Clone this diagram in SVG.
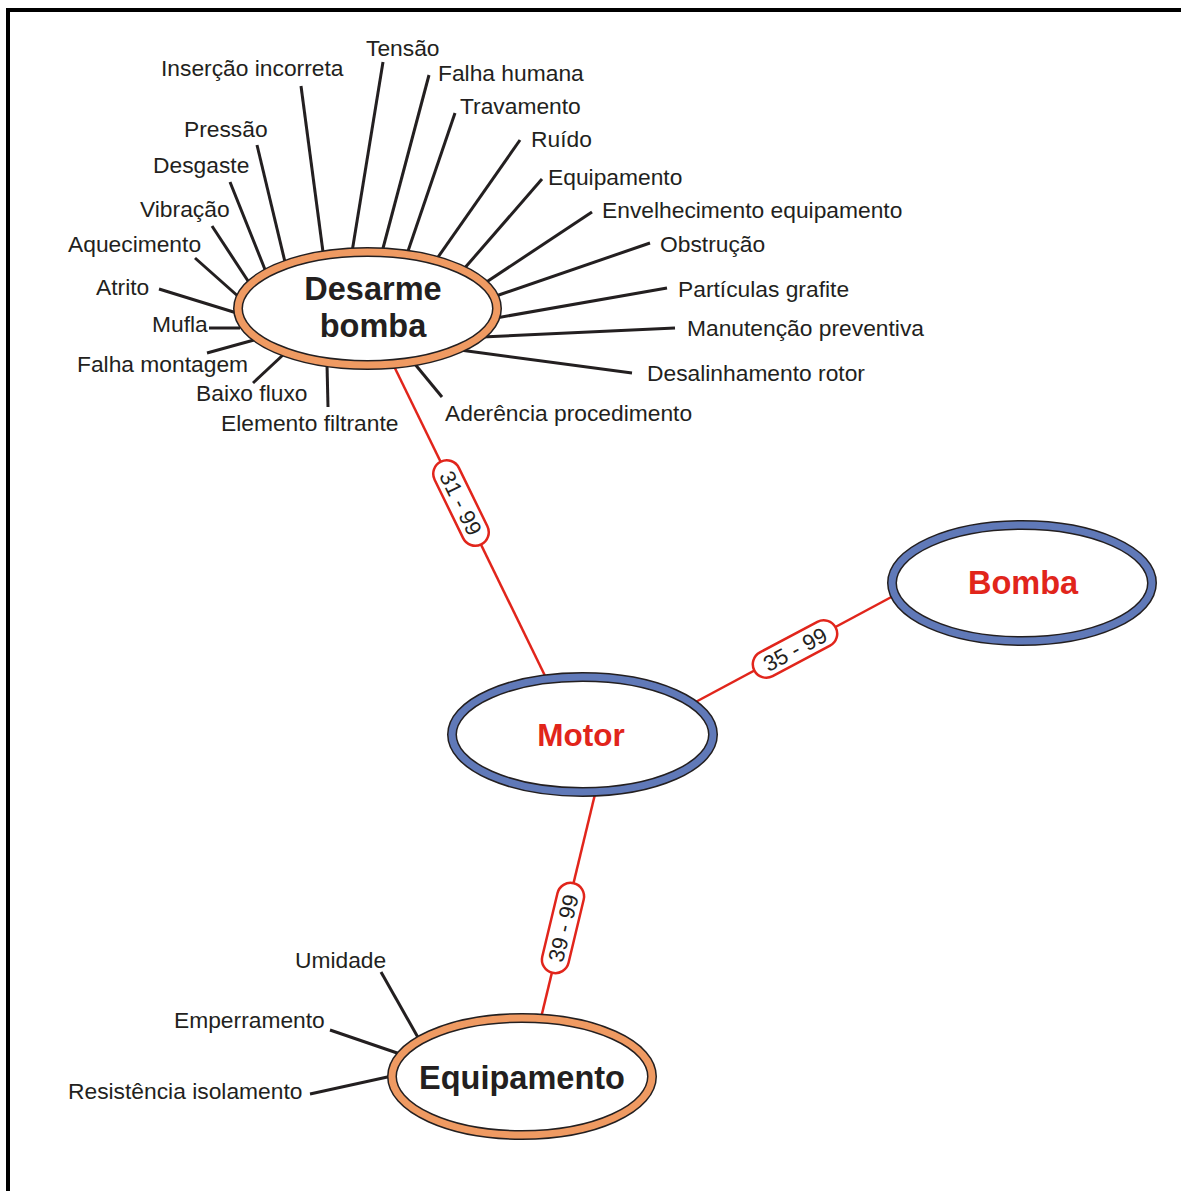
<svg xmlns="http://www.w3.org/2000/svg" width="1181" height="1191" viewBox="0 0 1181 1191">
<style>
.lbl{font-family:"Liberation Sans",Arial,sans-serif;font-size:22.8px;fill:#231f20}
.title{font-family:"Liberation Sans",Arial,sans-serif;font-weight:bold;font-size:32.5px;text-anchor:middle}
.spoke{stroke:#231f20;stroke-width:3;stroke-linecap:butt;fill:none}
.edge{stroke:#e1251b;stroke-width:2.5;fill:none}
.ebox{fill:#fff;stroke:#e1251b;stroke-width:2.5}
.etxt{font-family:"Liberation Sans",Arial,sans-serif;font-size:22px;fill:#231f20;text-anchor:middle}
.ringout{stroke:#231f20;stroke-width:10;fill:#fff}
.orange{stroke:#ef9a62;stroke-width:7;fill:none}
.blue{stroke:#6079b8;stroke-width:7;fill:none}
</style>
<rect width="1181" height="1191" fill="#fff"/>
<g id="frame">
<line x1="6" y1="10" x2="1181" y2="10" stroke="#000" stroke-width="4"/>
<line x1="8" y1="8" x2="8" y2="1191" stroke="#000" stroke-width="4"/>
</g>
<g id="connectors">
<line class="edge" x1="390" y1="358" x2="549" y2="684"/>
<line class="edge" x1="690" y1="705" x2="897" y2="594"/>
<line class="edge" x1="596" y1="790" x2="540" y2="1022"/>
<g class="spoke-set">
<line class="spoke" x1="301" y1="86" x2="323" y2="252"/>
<line class="spoke" x1="257" y1="145" x2="285" y2="262"/>
<line class="spoke" x1="230" y1="182" x2="266" y2="272"/>
<line class="spoke" x1="212" y1="226" x2="250" y2="284"/>
<line class="spoke" x1="195" y1="258" x2="240" y2="298"/>
<line class="spoke" x1="159" y1="289" x2="240" y2="314"/>
<line class="spoke" x1="209" y1="328" x2="240" y2="328"/>
<line class="spoke" x1="207" y1="353" x2="254" y2="340"/>
<line class="spoke" x1="253" y1="383" x2="284" y2="354"/>
<line class="spoke" x1="328" y1="407" x2="327" y2="364"/>
<line class="spoke" x1="383" y1="62" x2="352" y2="252"/>
<line class="spoke" x1="429" y1="75" x2="382" y2="252"/>
<line class="spoke" x1="455" y1="113" x2="407" y2="254"/>
<line class="spoke" x1="520" y1="140" x2="436" y2="260"/>
<line class="spoke" x1="542" y1="179" x2="463" y2="270"/>
<line class="spoke" x1="592" y1="212" x2="482" y2="285"/>
<line class="spoke" x1="650" y1="243" x2="493" y2="297"/>
<line class="spoke" x1="667" y1="288" x2="496" y2="318"/>
<line class="spoke" x1="675" y1="328" x2="482" y2="337"/>
<line class="spoke" x1="632" y1="373" x2="460" y2="350"/>
<line class="spoke" x1="442" y1="397" x2="414" y2="363"/>
<line class="spoke" x1="381" y1="972" x2="420" y2="1041"/>
<line class="spoke" x1="330" y1="1030" x2="403" y2="1055"/>
<line class="spoke" x1="310" y1="1094" x2="392" y2="1076"/>
</g>
<g transform="translate(461,503) rotate(64)">
<rect class="ebox" x="-46" y="-13.5" width="92" height="27" rx="13.5"/>
<text class="etxt" x="0" y="8">31 - 99</text>
</g>
<g transform="translate(795,649) rotate(-28)">
<rect class="ebox" x="-46" y="-13.5" width="92" height="27" rx="13.5"/>
<text class="etxt" x="0" y="8">35 - 99</text>
</g>
<g transform="translate(563,928) rotate(-76.5)">
<rect class="ebox" x="-46" y="-13.5" width="92" height="27" rx="13.5"/>
<text class="etxt" x="0" y="8">39 - 99</text>
</g>
</g>
<g id="node-desarme">
<ellipse class="ringout" cx="367.5" cy="308.5" rx="129.5" ry="56.5"/>
<ellipse class="orange" cx="367.5" cy="308.5" rx="129.5" ry="56.5"/>
<text class="title" x="373" y="300" fill="#231f20">Desarme</text>
<text class="title" x="373" y="337" fill="#231f20">bomba</text>
</g>
<g id="node-motor">
<ellipse class="ringout" cx="582.5" cy="734.5" rx="130.5" ry="57.5"/>
<ellipse class="blue" cx="582.5" cy="734.5" rx="130.5" ry="57.5"/>
<text class="title" x="581" y="746" fill="#e1251b" style="font-size:31.5px">Motor</text>
</g>
<g id="node-bomba">
<ellipse class="ringout" cx="1022" cy="583" rx="130" ry="58"/>
<ellipse class="blue" cx="1022" cy="583" rx="130" ry="58"/>
<text class="title" x="1023" y="594" fill="#e1251b">Bomba</text>
</g>
<g id="node-equipamento">
<ellipse class="ringout" cx="522" cy="1076.5" rx="130" ry="58.5"/>
<ellipse class="orange" cx="522" cy="1076.5" rx="130" ry="58.5"/>
<text class="title" x="522" y="1089" fill="#231f20">Equipamento</text>
</g>
<g id="labels">
<text class="lbl" x="161" y="76">Inserção incorreta</text>
<text class="lbl" x="366" y="56">Tensão</text>
<text class="lbl" x="438" y="81">Falha humana</text>
<text class="lbl" x="460" y="114">Travamento</text>
<text class="lbl" x="531" y="147">Ruído</text>
<text class="lbl" x="548" y="185">Equipamento</text>
<text class="lbl" x="602" y="218">Envelhecimento equipamento</text>
<text class="lbl" x="660" y="252">Obstrução</text>
<text class="lbl" x="678" y="297">Partículas grafite</text>
<text class="lbl" x="687" y="336">Manutenção preventiva</text>
<text class="lbl" x="647" y="381">Desalinhamento rotor</text>
<text class="lbl" x="445" y="421">Aderência procedimento</text>
<text class="lbl" x="184" y="137">Pressão</text>
<text class="lbl" x="153" y="173">Desgaste</text>
<text class="lbl" x="140" y="217">Vibração</text>
<text class="lbl" x="68" y="252">Aquecimento</text>
<text class="lbl" x="96" y="295">Atrito</text>
<text class="lbl" x="152" y="332">Mufla</text>
<text class="lbl" x="77" y="372">Falha montagem</text>
<text class="lbl" x="196" y="401">Baixo fluxo</text>
<text class="lbl" x="221" y="431">Elemento filtrante</text>
<text class="lbl" x="295" y="968">Umidade</text>
<text class="lbl" x="174" y="1028">Emperramento</text>
<text class="lbl" x="68" y="1099">Resistência isolamento</text>
</g>
</svg>
